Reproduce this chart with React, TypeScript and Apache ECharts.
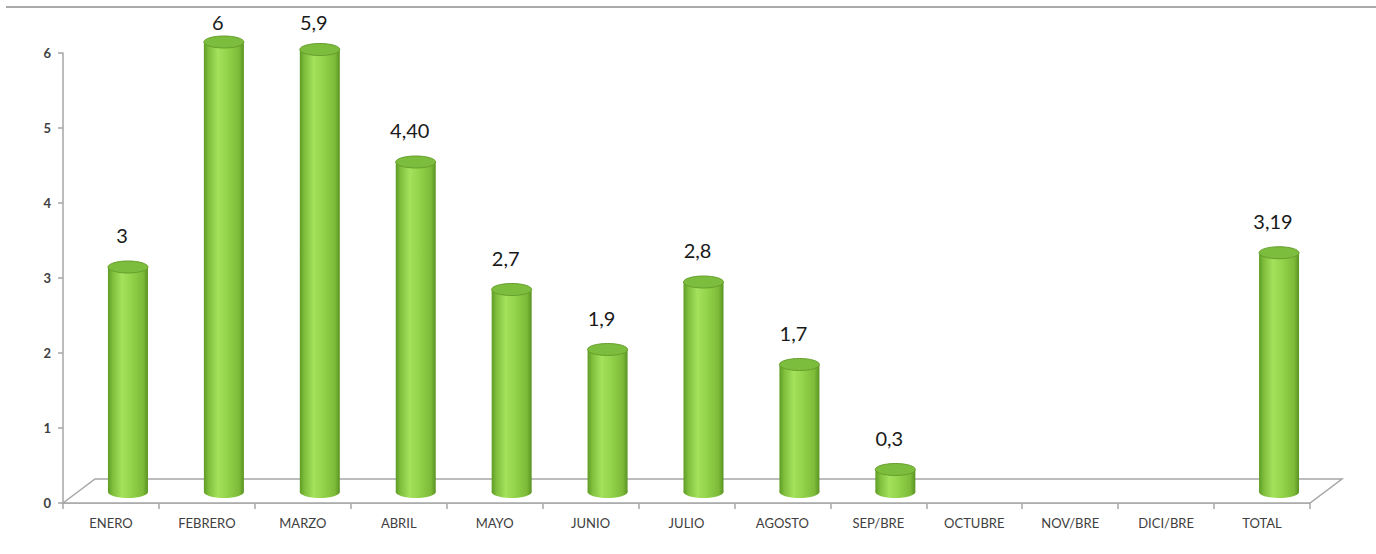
import React, { useEffect, useRef } from "react";
import * as echarts from "echarts";

const categories = [
  "ENERO", "FEBRERO", "MARZO", "ABRIL", "MAYO", "JUNIO", "JULIO",
  "AGOSTO", "SEP/BRE", "OCTUBRE", "NOV/BRE", "DICI/BRE", "TOTAL",
];
const values: (number | null)[] = [3, 6, 5.9, 4.4, 2.7, 1.9, 2.8, 1.7, 0.3, null, null, null, 3.19];
const valueLabels = ["3", "6", "5,9", "4,40", "2,7", "1,9", "2,8", "1,7", "0,3", "", "", "", "3,19"];
const yTicks = [0, 1, 2, 3, 4, 5, 6];

const FONT = "Lato, 'Open Sans', sans-serif";
const DEPTH_X = 32;
const DEPTH_Y = 24;
const BAR_DX = 17;
const BAR_DY = 11;
const RX = 20;
const RY = 6;

export default function App() {
  const ref = useRef<HTMLDivElement>(null);
  useEffect(() => {
    if (!ref.current) return;
    const chart = echarts.init(ref.current, undefined, { renderer: "svg" });

    const bodyGrad = new echarts.graphic.LinearGradient(0, 0, 1, 0, [
      { offset: 0, color: "#5f9c26" },
      { offset: 0.12, color: "#7fbf3c" },
      { offset: 0.35, color: "#a4e15c" },
      { offset: 0.6, color: "#92d24a" },
      { offset: 0.88, color: "#7cba38" },
      { offset: 1, color: "#5a9322" },
    ]);

    const option: any = {
      animation: false,
      backgroundColor: "#ffffff",
      grid: { left: 63, top: 53, width: 1247, height: 450, containLabel: false },
      xAxis: {
        type: "category",
        data: categories,
        boundaryGap: true,
        axisLine: { show: true, lineStyle: { color: "#a6a6a6", width: 1.5 } },
        axisTick: { show: true, length: 6, interval: 0, lineStyle: { color: "#a6a6a6", width: 1.5 } },
        axisLabel: { interval: 0, color: "#404040", fontFamily: FONT, fontSize: 13, margin: 13 },
        splitLine: { show: false },
      },
      yAxis: {
        type: "value",
        min: 0,
        max: 6,
        interval: 1,
        axisLine: { show: true, lineStyle: { color: "#a6a6a6", width: 1.5 } },
        axisTick: { show: true, length: 5, lineStyle: { color: "#a6a6a6", width: 1.5 } },
        axisLabel: {
          color: "#404040", fontFamily: FONT, fontSize: 13, fontWeight: "bold", margin: 12,
          formatter: (v: number) => (yTicks.includes(v) ? String(v) : ""),
        },
        splitLine: { show: false },
      },
      graphic: [
        {
          type: "line",
          shape: { x1: 6, y1: 7, x2: 1376, y2: 7 },
          style: { stroke: "#8c8c8c", lineWidth: 1.5 },
        },
      ],
      series: [
        {
          type: "custom",
          name: "floor",
          data: [0],
          z: 1,
          silent: true,
          renderItem: (params: any) => {
            const cs = params.coordSys;
            const x0 = cs.x;
            const x1 = cs.x + cs.width;
            const yb = cs.y + cs.height;
            return {
              type: "polygon",
              shape: {
                points: [
                  [x0, yb],
                  [x0 + DEPTH_X, yb - DEPTH_Y],
                  [x1 + DEPTH_X, yb - DEPTH_Y],
                  [x1, yb],
                ],
              },
              style: { fill: "#ffffff", stroke: "#a6a6a6", lineWidth: 1.5 },
            };
          },
        },
        {
          type: "custom",
          name: "valores",
          z: 3,
          data: values.map((v, i) => [i, v]),
          renderItem: (params: any, api: any) => {
            const idx = api.value(0);
            const v = api.value(1);
            if (v == null || isNaN(v)) return null;
            const base = api.coord([idx, 0]);
            const top = api.coord([idx, v]);
            const cx = base[0] + BAR_DX;
            const yBot = base[1] - BAR_DY;
            const yTop = top[1] - BAR_DY;
            let ly = top[1] - 43;
            if (ly < 22) ly = 22;
            return {
              type: "group",
              children: [
                {
                  type: "ellipse",
                  shape: { cx, cy: yBot, rx: RX, ry: RY },
                  style: { fill: bodyGrad },
                },
                {
                  type: "rect",
                  shape: { x: cx - RX, y: yTop, width: RX * 2, height: Math.max(0, yBot - yTop) },
                  style: { fill: bodyGrad },
                },
                {
                  type: "ellipse",
                  shape: { cx, cy: yTop, rx: RX, ry: RY },
                  style: { fill: "#7dbd3e", stroke: "#669f2c", lineWidth: 1 },
                },
                {
                  type: "text",
                  x: base[0] + 11,
                  y: ly,
                  style: {
                    text: valueLabels[idx],
                    fill: "#1a1a1a",
                    font: `20px ${FONT}`,
                    align: "center",
                    verticalAlign: "middle",
                  },
                },
              ],
            };
          },
        },
      ],
    };
    chart.setOption(option);
    return () => chart.dispose();
  }, []);

  return (
    <div
      ref={ref}
      style={{ position: "absolute", left: 0, top: 0, width: 1376, height: 554, background: "#fff" }}
    />
  );
}
